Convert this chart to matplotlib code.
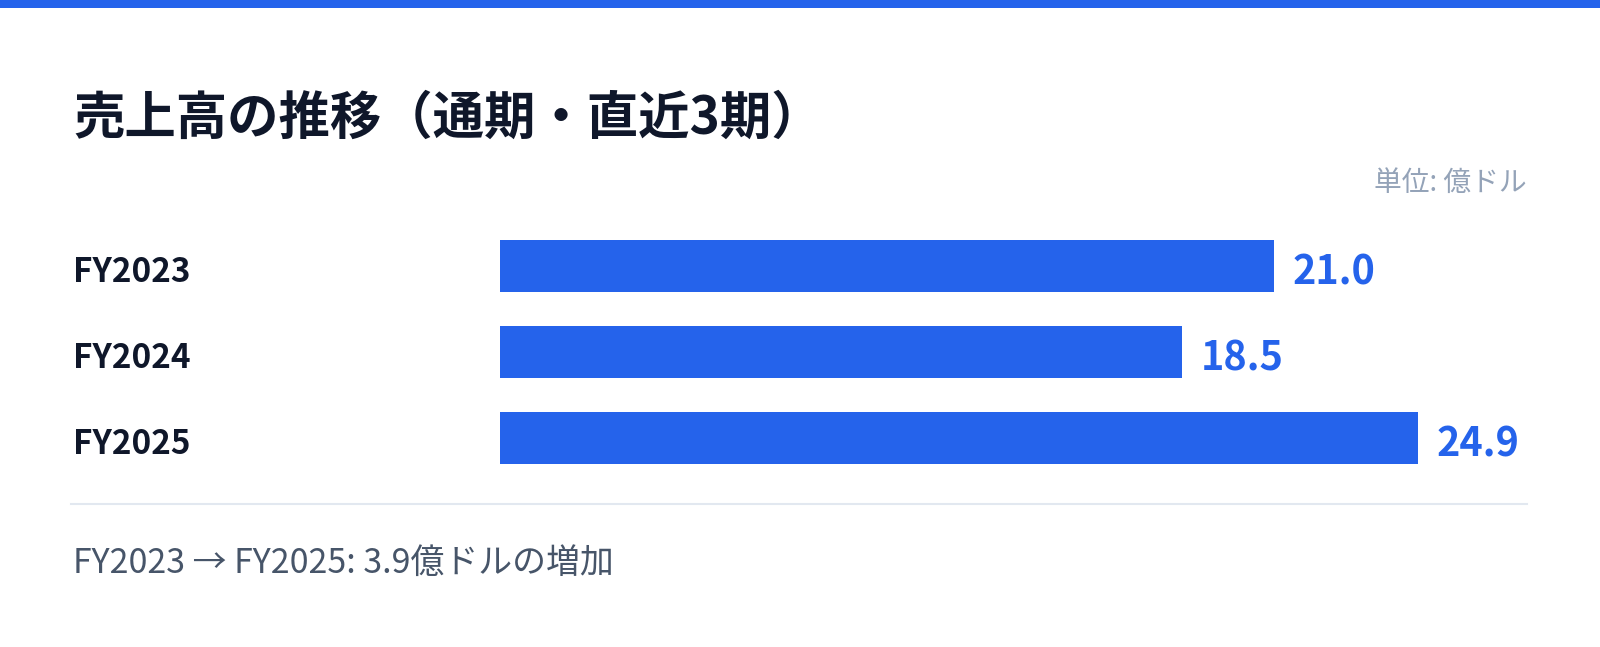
import matplotlib
matplotlib.use("Agg")
import matplotlib.pyplot as plt
from matplotlib.patches import Rectangle
from matplotlib.lines import Line2D
import matplotlib.transforms as mtransforms

plt.rcParams['font.family'] = ['Noto Sans CJK JP', 'DejaVu Sans']

# data (億ドル)
periods = ['FY2023', 'FY2024', 'FY2025']
sales = [21.0, 18.5, 24.9]
title = '売上高の推移（通期・直近3期）'
unit_label = '単位: 億ドル'
footer = 'FY2023 → FY2025: 3.9億ドルの増加'

BLUE = '#2563EB'
DARK = '#0F172A'
W, H = 1600, 647

fig = plt.figure(figsize=(W / 100, H / 100), dpi=100)
fig.patch.set_facecolor('white')

# top accent strip
fig.add_artist(Rectangle((0, 1 - 8 / H), 1, 8 / H, transform=fig.transFigure,
                         color=BLUE, lw=0))

fig.text(73 / W, 1 - 118 / H, title, fontsize=37, fontweight='bold',
         color=DARK, ha='left', va='center')
fig.text(1527 / W, 1 - 183 / H, unit_label, fontsize=20, color='#94A3B8',
         ha='right', va='center')

# bar area
ax = fig.add_axes([500 / W, (H - 481) / H, 1027 / W, 258 / H])
ypos = list(range(len(periods)))
ax.barh(ypos, sales, height=0.605, color=BLUE)
ax.set_xlim(0, 1027 / 36.86)
ax.set_ylim(len(periods) - 0.5, -0.5)
ax.axis('off')

trans = mtransforms.blended_transform_factory(fig.transFigure, ax.transData)
for y, p, v in zip(ypos, periods, sales):
    ax.annotate(p, xy=(73 / W, y), xycoords=trans, xytext=(0, -2),
                textcoords='offset points', fontsize=24, fontweight='bold',
                color=DARK, ha='left', va='center_baseline')
    ax.annotate(f'{v:.1f}', xy=(v, y), xytext=(13.5, -1.5), textcoords='offset points',
                fontsize=28.5, fontweight='bold', color=BLUE,
                ha='left', va='center_baseline')

# separator
fig.add_artist(Line2D([71 / W, 1527 / W], [1 - 504 / H] * 2,
                      transform=fig.transFigure, color='#E2E8F0', lw=1.5))

fig.text(73 / W, 1 - 563 / H, footer, fontsize=24.4, color='#475569',
         ha='left', va='center')

fig.savefig('out.png', dpi=100)
